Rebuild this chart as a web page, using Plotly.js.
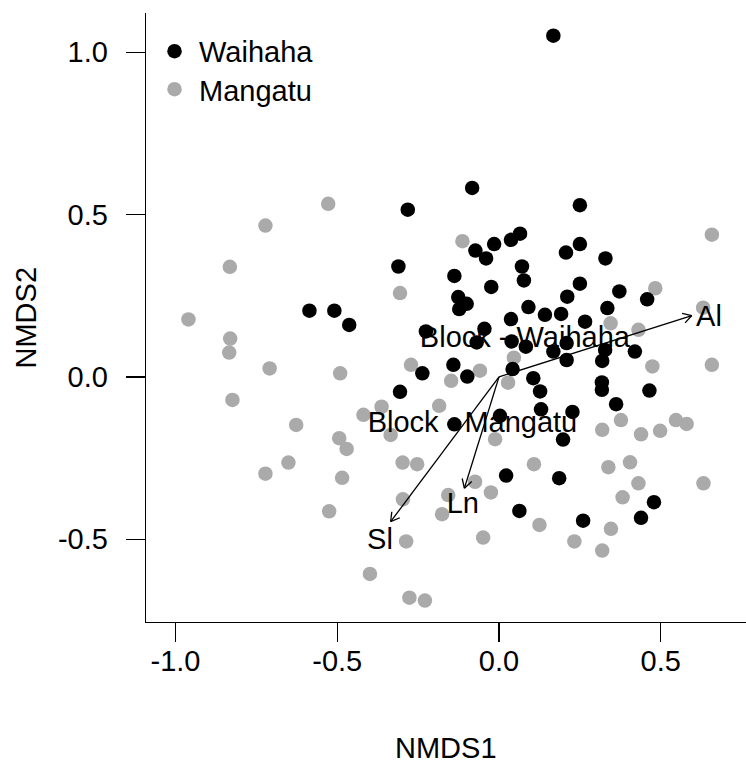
<!DOCTYPE html>
<html>
<head>
<meta charset="utf-8">
<script src="https://cdn.plot.ly/plotly-3.0.1.min.js"></script>
<style>html,body{margin:0;padding:0;background:#fff;}#chart{width:746px;height:767px;}</style>
</head>
<body>
<div id="chart"></div>
<script>
// ---- Data (NMDS site scores) ----
const waihahaX = [0.168,-0.083,-0.282,0.250,-0.073,-0.015,-0.040,0.037,0.065,0.207,0.250,0.329,-0.311,0.071,-0.138,0.077,-0.024,0.250,0.372,0.458,-0.126,-0.100,-0.123,0.211,0.091,0.142,0.192,0.335,0.037,0.266,-0.586,-0.509,-0.463,-0.226,-0.045,-0.069,0.039,0.083,0.168,0.209,0.328,0.420,0.319,0.209,-0.237,-0.141,-0.098,0.042,0.106,0.127,0.318,0.318,0.465,-0.306,0.130,0.227,0.362,-0.138,0.003,0.198,0.022,0.186,0.479,0.063,0.260,0.439];
const waihahaY = [1.051,0.582,0.515,0.529,0.389,0.409,0.365,0.422,0.441,0.383,0.409,0.365,0.340,0.340,0.311,0.297,0.277,0.287,0.263,0.239,0.246,0.225,0.209,0.247,0.215,0.191,0.194,0.212,0.178,0.170,0.204,0.204,0.160,0.140,0.148,0.106,0.109,0.093,0.078,0.104,0.083,0.078,0.049,0.052,0.011,0.037,0.001,0.024,-0.004,-0.045,-0.017,-0.040,-0.042,-0.046,-0.100,-0.108,-0.084,-0.146,-0.120,-0.193,-0.304,-0.312,-0.386,-0.413,-0.443,-0.434];
const mangatuX = [-0.528,-0.722,-0.832,-0.960,-0.831,-0.834,-0.709,-0.491,-0.824,-0.627,-0.494,-0.471,-0.419,-0.363,-0.651,-0.722,-0.485,-0.525,-0.399,-0.113,-0.306,0.483,0.345,0.431,0.046,-0.272,-0.059,-0.148,0.028,0.474,-0.185,-0.335,-0.012,0.319,0.377,0.439,0.498,0.547,0.580,-0.298,-0.253,0.108,0.338,0.405,-0.074,-0.025,0.431,-0.297,-0.157,-0.176,0.382,0.125,0.346,-0.287,-0.049,0.233,0.319,-0.277,-0.229,0.631,0.658,0.658,0.632];
const mangatuY = [0.533,0.466,0.339,0.177,0.118,0.075,0.026,0.011,-0.071,-0.148,-0.189,-0.222,-0.117,-0.092,-0.264,-0.298,-0.311,-0.414,-0.607,0.418,0.258,0.273,0.165,0.145,0.059,0.037,0.019,-0.012,-0.018,0.032,-0.089,-0.179,-0.192,-0.163,-0.133,-0.177,-0.166,-0.133,-0.145,-0.264,-0.269,-0.269,-0.278,-0.263,-0.323,-0.356,-0.328,-0.377,-0.364,-0.423,-0.371,-0.456,-0.468,-0.507,-0.495,-0.507,-0.535,-0.680,-0.689,0.213,0.438,0.037,-0.328];

// Fitted environmental vectors
const vectorNames = ["Al","Sl","Ln"];
const vectorX = [0.596,-0.335,-0.107];
const vectorY = [0.189,-0.446,-0.343];
const vectorLabelX = [0.649,-0.368,-0.112];
const vectorLabelY = [0.180,-0.507,-0.397];

// Factor centroids
const centroidNames = ["Block - Waihaha","Block - Mangatu"];
const centroidX = [0.080,-0.082];
const centroidY = [0.114,-0.148];

// Axes
const xTickVals = [-1.0,-0.5,0.0,0.5];
const xTickText = ["-1.0","-0.5","0.0","0.5"];
const yTickVals = [-0.5,0.0,0.5,1.0];
const yTickText = ["-0.5","0.0","0.5","1.0"];
const xRange = [-1.0912,0.7635];
const yRange = [-0.755,1.1208];

const W = 746, H = 767;
const M = {l:146, r:0, t:13, b:145};
const FONT = "Liberation Sans, Arial, Helvetica, sans-serif";
const FS = 29;

// pixel per data unit, to draw open arrow heads
const kx = (W - M.l - M.r) / (xRange[1] - xRange[0]);
const ky = (H - M.t - M.b) / (yRange[1] - yRange[0]);
const headLen = 10, headAng = 30 * Math.PI / 180;
const ax = [], ay = [];
for (let i = 0; i < vectorX.length; i++) {
  const tx = vectorX[i], ty = vectorY[i];
  ax.push(0, tx, null); ay.push(0, ty, null);
  const px = tx * kx, py = ty * ky;
  const len = Math.hypot(px, py);
  const ux = px / len, uy = py / len;
  for (const s of [1, -1]) {
    const c = Math.cos(s * headAng), sn = Math.sin(s * headAng);
    const rx = ux * c - uy * sn, ry = ux * sn + uy * c;
    ax.push(tx - headLen * rx / kx, tx, null);
    ay.push(ty - headLen * ry / ky, ty, null);
  }
}

const traces = [
  {x: mangatuX, y: mangatuY, type: "scatter", mode: "markers", name: "Mangatu", legend: "legend2",
   marker: {color: "#aaaaaa", size: 14.5, line: {width: 0}}},
  {x: waihahaX, y: waihahaY, type: "scatter", mode: "markers", name: "Waihaha", legend: "legend",
   marker: {color: "#000000", size: 14.5, line: {width: 0}}},
  {x: ax, y: ay, type: "scatter", mode: "lines", showlegend: false, hoverinfo: "skip",
   line: {color: "#000", width: 1.3}},
  {x: vectorLabelX, y: vectorLabelY, text: vectorNames, type: "scatter", mode: "text",
   showlegend: false, textposition: "middle center", textfont: {family: FONT, size: FS, color: "#000"}},
  {x: centroidX, y: centroidY, text: centroidNames, type: "scatter", mode: "text",
   showlegend: false, textposition: "middle center", textfont: {family: FONT, size: FS, color: "#000"}}
];

const axisBase = {
  showgrid: false, zeroline: false, showline: true, linecolor: "#000", linewidth: 1.3,
  ticks: "outside", ticklen: 19, tickwidth: 1.3, tickcolor: "#000", mirror: false,
  tickmode: "array", tickfont: {family: FONT, size: FS, color: "#000"}, fixedrange: true
};

const legendBase = {x: 0.0067, xanchor: "left", yanchor: "top", bgcolor: "rgba(0,0,0,0)",
  borderwidth: 0, font: {family: FONT, size: FS, color: "#000"}, itemsizing: "trace", itemwidth: 39};

const layout = {
  width: W, height: H, margin: M, paper_bgcolor: "#fff", plot_bgcolor: "#fff",
  font: {family: FONT, size: FS, color: "#000"},
  showlegend: true,
  legend: Object.assign({}, legendBase, {y: 0.979}),
  legend2: Object.assign({}, legendBase, {y: 0.9165}),
  xaxis: Object.assign({}, axisBase, {range: xRange, tickvals: xTickVals, ticktext: xTickText, ticklabelstandoff: -6}),
  yaxis: Object.assign({}, axisBase, {range: yRange, tickvals: yTickVals, ticktext: yTickText, ticklabelstandoff: 12}),
  annotations: [
    {text: "NMDS1", xref: "paper", yref: "paper", x: 0.5, y: 0, xanchor: "center", yanchor: "middle",
     yshift: -126, showarrow: false, font: {family: FONT, size: FS, color: "#000"}},
    {text: "NMDS2", xref: "paper", yref: "paper", x: 0, y: 0.5, xanchor: "center", yanchor: "middle",
     xshift: -121, textangle: -90, showarrow: false, font: {family: FONT, size: FS, color: "#000"}}
  ]
};

Plotly.newPlot("chart", traces, layout, {displayModeBar: false, staticPlot: true});
</script>
</body>
</html>
